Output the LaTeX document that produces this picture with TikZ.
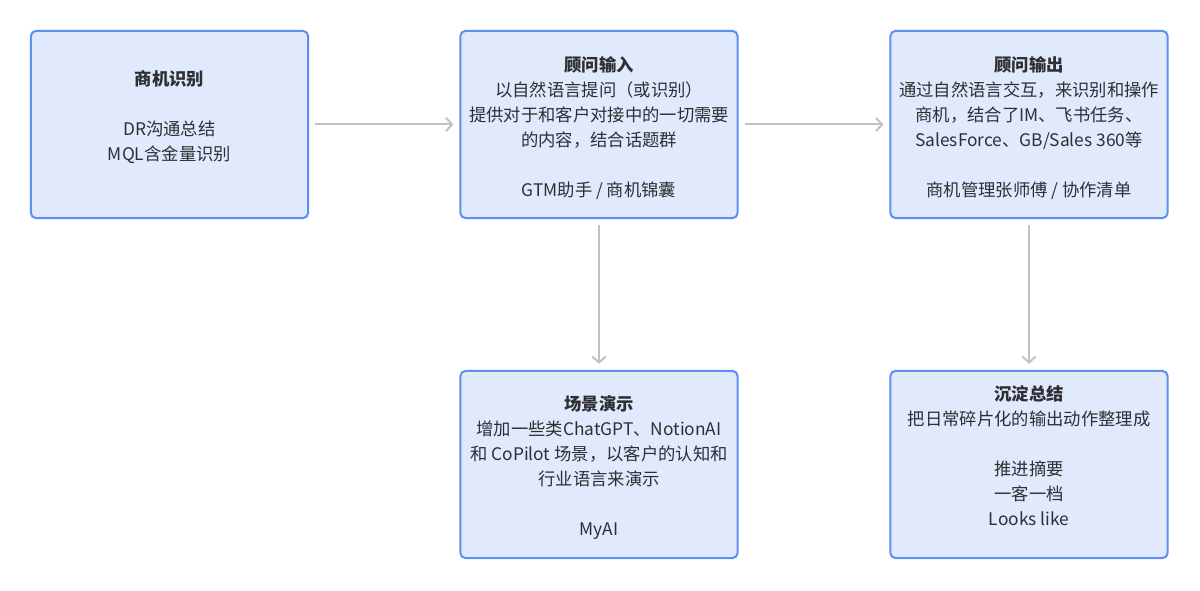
\documentclass[tikz,border=0pt]{standalone}
\usepackage{fontspec}
\setmainfont{Noto Sans CJK SC}
\usepackage{tikz}
\usetikzlibrary{positioning,arrows.meta}
\definecolor{stageblue}{HTML}{5B8FF3}
\definecolor{stagefill}{HTML}{E1E9FD}
\definecolor{flowgray}{HTML}{BEC1C6}
\definecolor{textgray}{HTML}{2E2F33}
\newcommand{\stagetitle}[1]{{\bfseries\rule{0pt}{16.5pt}#1}}

\begin{document}
\begin{tikzpicture}[x=0.75pt,y=-0.75pt]
\tikzstyle{stage}=[rectangle, rounded corners=4pt, draw=stageblue, fill=stagefill, line width=1.5pt, minimum width=208pt, minimum height=140.5pt, align=center, text=textgray, font=\fontsize{13pt}{18.75pt}\selectfont]
\tikzstyle{connect}=[-{Straight Barb[length=4.5pt,width=10pt]}, draw=flowgray, line width=1.5pt, shorten <=4.5pt, shorten >=4.5pt]
\useasboundingbox (0,0) rectangle (1200,591);

	\node[stage] (ident) at (169.5,124.5) {\stagetitle{商机识别}\\~\\DR沟通总结\\MQL含金量识别\\~};
	\node[stage] (advin) at (599,124.5) {\stagetitle{顾问输入}\\以自然语言提问（或识别）\\提供对于和客户对接中的一切需要\\的内容，结合话题群\\~\\GTM助手 / 商机锦囊};
	\node[stage] (advout) at (1029,124.5) {\stagetitle{顾问输出}\\通过自然语言交互，来识别和操作\\商机，结合了IM、飞书任务、\\SalesForce、GB/Sales 360等\\~\\商机管理张师傅 / 协作清单};
	\node[stage] (demo) at (599,464.5) {\stagetitle{场景演示}\\增加一些类ChatGPT、NotionAI\\和 CoPilot 场景，以客户的认知和\\行业语言来演示\\~\\MyAI};
	\node[stage] (settle) at (1029,464.5) {\stagetitle{沉淀总结}\\把日常碎片化的输出动作整理成\\~\\推进摘要\\一客一档\\Looks like\\~};

	\path
		(ident) edge [connect] (advin)
		(advin) edge [connect] (advout)
		(advin) edge [connect] (demo)
		(advout) edge [connect] (settle);

\end{tikzpicture}
\end{document}
